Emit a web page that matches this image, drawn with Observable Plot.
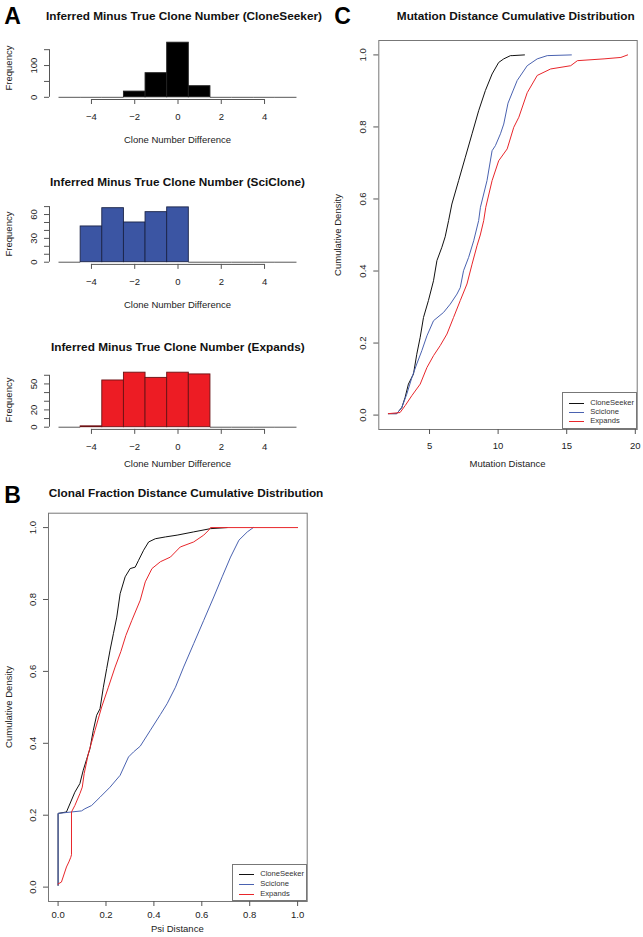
<!DOCTYPE html>
<html><head><meta charset="utf-8">
<script src="https://cdn.jsdelivr.net/npm/d3@7"></script>
<script src="https://cdn.jsdelivr.net/npm/@observablehq/plot@0.6"></script>
<style>
body{margin:0;background:#fff;font-family:"Liberation Sans",Arial,Helvetica,sans-serif;}
#fig{position:relative;width:643px;height:937px;overflow:hidden;background:#fff;}
.t{position:absolute;white-space:nowrap;transform:translate(-50%,-50%);line-height:1;}
.letter{font-weight:bold;font-size:23px;color:#000;}
.title{font-weight:bold;font-size:11.8px;color:#111;}
.lab{font-size:9.5px;color:#222;}
.rot{transform:translate(-50%,-50%) rotate(-90deg);}
.legend{position:absolute;border:1px solid #777;background:#fff;box-sizing:border-box;}
.legend .row{position:absolute;left:0;font-size:7.6px;color:#333;white-space:nowrap;line-height:1;}
.legend .sw{position:absolute;height:0;border-top:1px solid;}
</style></head><body><div id="fig"></div><script>
// ---------- data ----------
const histCenters = [-5, -4, -3, -2, -1, 0, 1, 2, 3, 4, 5];
const binWidth = 1;
const histXTicks = [-4, -2, 0, 2, 4];
const cloneSeekerCounts = [0, 0, 0, 18, 76, 172, 35, 0, 0, 0, 0];
const sciCloneCounts    = [0, 45, 68, 50, 63, 69, 0, 0, 0, 0, 0];
const expandsCounts     = [0, 1, 54, 63, 57, 63, 61, 0, 0, 0, 0];
const hist1YTicks = [0, 50, 100, 150];   const hist1YLabels = [0, 100];
const hist2YTicks = [0, 10, 20, 30, 40, 50, 60, 70]; const hist2YLabels = [0, 30, 60];
const hist3YTicks = [0, 10, 20, 30, 40, 50, 60];     const hist3YLabels = [0, 20, 50];

// Panel B: clonal fraction (Psi) distance ECDFs
const bCloneSeekerX = [0, 0, 0.035, 0.070, 0.091, 0.105, 0.119, 0.133, 0.147, 0.161, 0.175, 0.189, 0.203, 0.217, 0.231, 0.245, 0.259, 0.280, 0.301, 0.322, 0.336, 0.357, 0.378, 0.406, 0.448, 0.497, 0.566, 0.636, 0.706];
const bCloneSeekerY = [0.005, 0.205, 0.209, 0.264, 0.288, 0.325, 0.355, 0.385, 0.436, 0.478, 0.496, 0.556, 0.608, 0.659, 0.705, 0.751, 0.816, 0.863, 0.886, 0.890, 0.909, 0.937, 0.960, 0.969, 0.974, 0.979, 0.988, 0.997, 1.0];
const bScicloneX = [0, 0, 0.098, 0.112, 0.140, 0.175, 0.217, 0.259, 0.294, 0.315, 0.343, 0.385, 0.427, 0.455, 0.490, 0.524, 0.566, 0.608, 0.650, 0.685, 0.720, 0.755, 0.790, 0.815];
const bScicloneY = [0.005, 0.205, 0.212, 0.218, 0.227, 0.250, 0.278, 0.311, 0.362, 0.376, 0.392, 0.436, 0.480, 0.510, 0.556, 0.612, 0.677, 0.742, 0.807, 0.863, 0.918, 0.965, 0.988, 1.0];
const bExpandsX = [0, 0.014, 0.028, 0.035, 0.045, 0.053, 0.056, 0.056, 0.070, 0.091, 0.101, 0.109, 0.126, 0.154, 0.182, 0.210, 0.238, 0.262, 0.283, 0.308, 0.343, 0.364, 0.392, 0.427, 0.469, 0.510, 0.566, 0.608, 0.629, 0.636, 1.0];
const bExpandsY = [0.009, 0.014, 0.042, 0.056, 0.070, 0.083, 0.090, 0.209, 0.227, 0.260, 0.278, 0.316, 0.370, 0.436, 0.501, 0.556, 0.612, 0.655, 0.700, 0.742, 0.798, 0.849, 0.886, 0.905, 0.918, 0.946, 0.960, 0.979, 0.993, 1.0, 1.0];

// Panel C: mutation distance ECDFs
const cCloneSeekerX = [2.0, 2.61, 2.98, 3.22, 3.46, 3.83, 4.07, 4.32, 4.56, 4.92, 5.29, 5.54, 5.90, 6.14, 6.39, 6.63, 7.12, 7.61, 8.10, 8.58, 9.07, 9.56, 10.04, 10.41, 10.90, 11.02, 11.92];
const cCloneSeekerY = [0.004, 0.004, 0.021, 0.049, 0.086, 0.114, 0.169, 0.216, 0.271, 0.318, 0.373, 0.429, 0.466, 0.495, 0.540, 0.586, 0.651, 0.716, 0.781, 0.845, 0.901, 0.947, 0.979, 0.989, 0.998, 0.998, 1.0];
const cScicloneX = [2.0, 2.61, 2.98, 3.34, 3.71, 4.07, 4.44, 4.81, 5.29, 6.02, 6.51, 7.00, 7.24, 7.48, 7.85, 8.22, 8.58, 8.71, 9.19, 9.56, 9.80, 10.17, 10.41, 10.72, 11.08, 11.39, 12.12, 12.85, 13.58, 15.34];
const cScicloneY = [0.004, 0.004, 0.021, 0.058, 0.104, 0.142, 0.179, 0.220, 0.262, 0.285, 0.308, 0.336, 0.354, 0.401, 0.438, 0.484, 0.540, 0.577, 0.651, 0.734, 0.748, 0.781, 0.808, 0.866, 0.900, 0.929, 0.970, 0.989, 0.998, 1.0];
const cExpandsX = [2.0, 2.85, 3.22, 3.71, 4.32, 4.81, 5.29, 5.78, 6.27, 6.75, 7.24, 7.73, 8.10, 8.46, 8.70, 8.95, 9.10, 9.56, 10.04, 10.66, 11.14, 11.51, 12.12, 12.85, 13.83, 15.29, 15.78, 17.72, 18.95, 19.44];
const cExpandsY = [0.004, 0.007, 0.026, 0.054, 0.086, 0.132, 0.165, 0.193, 0.225, 0.271, 0.318, 0.364, 0.419, 0.470, 0.500, 0.540, 0.577, 0.651, 0.706, 0.739, 0.799, 0.827, 0.895, 0.943, 0.961, 0.970, 0.984, 0.989, 0.993, 1.0];

const bXTicks = [0, 0.2, 0.4, 0.6, 0.8, 1.0];
const cXTicks = [5, 10, 15, 20];
const cdfYTicks = [0, 0.2, 0.4, 0.6, 0.8, 1.0];
const seriesNames = ["CloneSeeker", "Sciclone", "Expands"];
const seriesColors = ["#111111", "#4a62b0", "#e8262b"];

// ---------- helpers ----------
const fig = document.getElementById("fig");
const FONT = "'Liberation Sans', Arial, Helvetica, sans-serif";
const AX = "#555";
const rx = (a, b) => [a - (b - a) * 0.04, b + (b - a) * 0.04];

function addPlot(opts, box, region) {
  const svg = Plot.plot({
    ...opts,
    width: box.w, height: box.h,
    marginLeft: region.l - box.x, marginRight: box.x + box.w - region.r,
    marginTop: region.t - box.y, marginBottom: box.y + box.h - region.b,
    style: {fontFamily: FONT, fontSize: "9.5px", color: "#222", background: "transparent", overflow: "visible"}
  });
  svg.style.position = "absolute";
  svg.style.left = box.x + "px";
  svg.style.top = box.y + "px";
  fig.appendChild(svg);
}
function text(str, x, y, cls) {
  const d = document.createElement("div");
  d.className = "t " + cls;
  d.textContent = str;
  d.style.left = x + "px"; d.style.top = y + "px";
  fig.appendChild(d);
}
function legend(box, rows, swX, swW, txtX) {
  const L = document.createElement("div");
  L.className = "legend";
  Object.assign(L.style, {left: box.x + "px", top: box.y + "px", width: box.w + "px", height: box.h + "px"});
  seriesNames.forEach((name, i) => {
    const sw = document.createElement("div");
    sw.className = "sw";
    Object.assign(sw.style, {left: swX + "px", width: swW + "px", top: rows[i] + "px", borderColor: seriesColors[i]});
    L.appendChild(sw);
    const t = document.createElement("div");
    t.className = "row";
    t.textContent = name;
    Object.assign(t.style, {left: txtX + "px", top: (rows[i] - 4) + "px"});
    L.appendChild(t);
  });
  fig.appendChild(L);
}

function histogram(counts, fill, stroke, yTicks, yLabels, box, region, labelPad) {
  const bins = histCenters.map((c, i) => ({x1: c - binWidth / 2, x2: c + binWidth / 2, count: counts[i]}));
  const xd = rx(d3.min(bins, d => d.x1), d3.max(bins, d => d.x2));
  const yd = rx(0, d3.max(counts));
  addPlot({
    x: {domain: xd, label: null},
    y: {domain: yd, label: null},
    marks: [
      Plot.ruleY(bins.filter(d => d.count === 0), {x1: "x1", x2: "x2", y: "count", stroke: "#444", strokeWidth: 0.9}),
      Plot.rect(bins.filter(d => d.count > 0), {x1: "x1", x2: "x2", y1: 0, y2: "count", fill, stroke, strokeWidth: 0.9}),
      Plot.ruleY([yd[0]], {x1: d3.min(histXTicks), x2: d3.max(histXTicks), stroke: AX}),
      Plot.ruleX([xd[0]], {y1: d3.min(yTicks), y2: d3.max(yTicks), stroke: AX}),
      Plot.axisX(histXTicks, {tickSize: 5, tickPadding: labelPad, stroke: AX, label: null}),
      Plot.axisY(yTicks, {tickSize: 5, tickRotate: -90, tickPadding: 7.5, stroke: AX, label: null,
        tickFormat: d => yLabels.includes(d) ? String(d) : ""})
    ]
  }, box, region);
}

function cdfPlot(series, xTicks, xFmt, box, region, labelPad) {
  const allX = series.flatMap(s => s.x);
  const xd = rx(d3.min(allX), d3.max(allX));
  addPlot({
    x: {domain: xd, label: null},
    y: {domain: rx(0, 1), label: null},
    marks: [
      Plot.frame({stroke: "#777"}),
      ...series.map((s, i) => Plot.line(s.y, {x: s.x, y: s.y, stroke: seriesColors[i], strokeWidth: 1, curve: "linear"})),
      Plot.axisX(xTicks, {tickSize: 5, tickPadding: labelPad, stroke: AX, label: null, tickFormat: xFmt}),
      Plot.axisY(cdfYTicks, {tickSize: 5, tickRotate: -90, tickPadding: 7.5, stroke: AX, label: null, tickFormat: d3.format(".1f")})
    ]
  }, box, region);
}

// ---------- panel A ----------
histogram(cloneSeekerCounts, "#000000", "#222", hist1YTicks, hist1YLabels,
  {x: 0, y: 30, w: 320, h: 100}, {l: 49, r: 306, t: 40, b: 99}, 9);
histogram(sciCloneCounts, "#3b55a3", "#1b2448", hist2YTicks, hist2YLabels,
  {x: 0, y: 195, w: 320, h: 100}, {l: 49, r: 306, t: 204.7, b: 263.9}, 9);
histogram(expandsCounts, "#ed1c24", "#6a1214", hist3YTicks, hist3YLabels,
  {x: 0, y: 360, w: 320, h: 100}, {l: 49, r: 306, t: 370, b: 428.9}, 9);

text("A", 12.5, 16, "letter");
text("Inferred Minus True Clone Number (CloneSeeker)", 184, 16.7, "title");
text("Inferred Minus True Clone Number (SciClone)", 177.5, 183.3, "title");
text("Inferred Minus True Clone Number (Expands)", 177.8, 347.7, "title");
text("Clone Number Difference", 177.5, 140, "lab");
text("Clone Number Difference", 177.5, 305, "lab");
text("Clone Number Difference", 177.5, 464, "lab");
text("Frequency", 8.5, 67.5, "lab rot");
text("Frequency", 8.5, 234, "lab rot");
text("Frequency", 8.5, 400, "lab rot");

// ---------- panel B ----------
cdfPlot([
  {x: bCloneSeekerX, y: bCloneSeekerY},
  {x: bScicloneX, y: bScicloneY},
  {x: bExpandsX, y: bExpandsY}
], bXTicks, d3.format(".1f"), {x: 0, y: 505, w: 320, h: 425}, {l: 48, r: 306.7, t: 512.7, b: 901}, 5);
text("B", 12.5, 495, "letter");
text("Clonal Fraction Distance Cumulative Distribution", 186, 494.3, "title");
text("Psi Distance", 177.3, 929, "lab");
text("Cumulative Density", 8.5, 707, "lab rot");
legend({x: 231.7, y: 864, w: 75, h: 37}, [8.5, 18.5, 28.5], 6.5, 15, 27.5);

// ---------- panel C ----------
cdfPlot([
  {x: cCloneSeekerX, y: cCloneSeekerY},
  {x: cScicloneX, y: cScicloneY},
  {x: cExpandsX, y: cExpandsY}
], cXTicks, d3.format("d"), {x: 320, y: 30, w: 323, h: 430}, {l: 378.3, r: 636.7, t: 40, b: 429}, 8);
text("C", 342.5, 15.7, "letter");
text("Mutation Distance Cumulative Distribution", 515.8, 17, "title");
text("Mutation Distance", 507.5, 464.3, "lab");
text("Cumulative Density", 338, 234.5, "lab rot");
legend({x: 561.7, y: 392.3, w: 75, h: 37}, [9.5, 18.5, 27.5], 6.5, 15, 27.5);
</script></body></html>
